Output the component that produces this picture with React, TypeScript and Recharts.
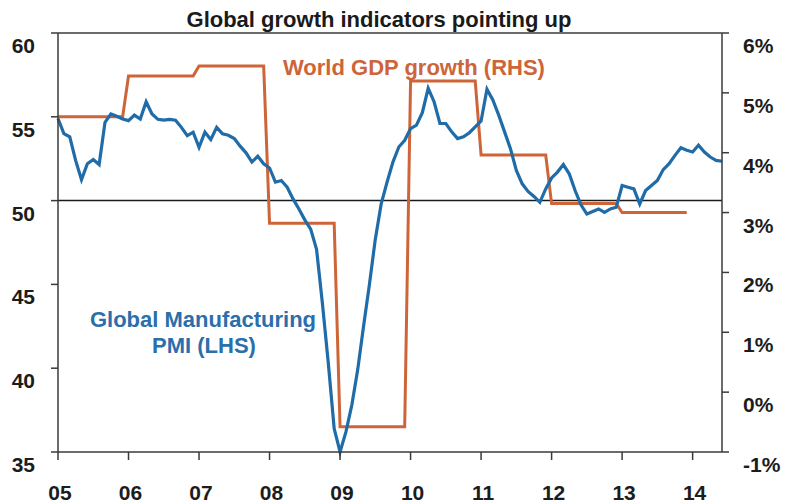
import React from 'react';
import { LineChart, Line, XAxis, YAxis, ReferenceLine } from 'recharts';

const FONT = '"Liberation Sans", Arial, Helvetica, sans-serif';
const BLUE = '#1F6CA8';
const ORANGE = '#CD6539';
const AXIS = '#3a3a3a';

// x-axis tick labels (one per year, Jan)
const yearLabels = ['05', '06', '07', '08', '09', '10', '11', '12', '13', '14'];

// World GDP growth (RHS, %), one value per calendar year 2005..2013
const gdpGrowth = [4.6, 5.28, 5.45, 2.82, -0.58, 5.2, 3.96, 3.15, 3.0];

// Global Manufacturing PMI (LHS), monthly Jan 2005 .. Jun 2014
const pmi2005 = [54.9, 54.0, 53.8, 52.4, 51.25, 52.2, 52.45, 52.15, 54.67, 55.17, 55.03, 54.87];
const pmi2006 = [54.77, 55.1, 54.87, 55.9, 55.17, 54.85, 54.8, 54.85, 54.8, 54.37, 53.88, 54.08];
const pmi2007 = [53.18, 54.08, 53.64, 54.37, 53.98, 53.9, 53.7, 53.25, 52.85, 52.3, 52.65, 52.2];
const pmi2008 = [51.95, 51.1, 51.2, 50.8, 50.1, 49.5, 48.85, 48.3, 47.1, 43.85, 40.3, 36.4];
const pmi2009 = [35.0, 36.2, 37.8, 39.9, 42.5, 45.0, 47.7, 49.8, 51.1, 52.3, 53.2, 53.6];
const pmi2010 = [54.3, 54.5, 55.25, 56.7, 55.9, 54.6, 54.6, 54.1, 53.7, 53.8, 54.05, 54.4];
const pmi2011 = [54.75, 56.65, 56.0, 55.1, 54.1, 53.1, 51.8, 51.0, 50.55, 50.25, 49.9, 50.7];
const pmi2012 = [51.35, 51.7, 52.15, 51.6, 50.6, 49.75, 49.2, 49.35, 49.5, 49.3, 49.5, 49.6];
const pmi2013 = [50.9, 50.8, 50.7, 49.8, 50.6, 50.9, 51.2, 51.85, 52.2, 52.7, 53.15, 53.0];
const pmi2014 = [52.9, 53.3, 52.9, 52.6, 52.4, 52.35];

const pmiValues = [
  ...pmi2005, ...pmi2006, ...pmi2007, ...pmi2008, ...pmi2009,
  ...pmi2010, ...pmi2011, ...pmi2012, ...pmi2013, ...pmi2014,
];

const leftTicks = [35, 40, 45, 50, 55, 60];
const rightTicks = [-1, 0, 1, 2, 3, 4, 5, 6];

const data = pmiValues.map((v, i) => ({
  m: i,
  pmi: v,
  gdp: Math.floor(i / 12) < gdpGrowth.length ? gdpGrowth[Math.floor(i / 12)] : null,
}));

const xTicks = yearLabels.map((_, i) => i * 12);

const LeftTick = (props: any) => {
  const { x, y, payload } = props;
  return (
    <text x={x} y={y + 20} textAnchor="end" fontFamily={FONT} fontSize={21} fontWeight="bold" fill="#1c1c1c">
      {payload.value}
    </text>
  );
};

const RightTick = (props: any) => {
  const { x, y, payload } = props;
  return (
    <text x={x} y={y + 20} textAnchor="start" fontFamily={FONT} fontSize={21} fontWeight="bold" fill="#1c1c1c">
      {`${payload.value}%`}
    </text>
  );
};

const BottomTick = (props: any) => {
  const { x, y, payload } = props;
  const idx = Math.round(payload.value / 12);
  return (
    <text x={x + 2} y={y + 38} textAnchor="middle" fontFamily={FONT} fontSize={21} fontWeight="bold" fill="#1c1c1c">
      {yearLabels[idx]}
    </text>
  );
};

export default function App() {
  return (
    <div style={{ position: 'absolute', left: 0, top: 0, width: 787, height: 503, background: '#ffffff' }}>
      <LineChart
        width={787}
        height={503}
        data={data}
        margin={{ top: 33, right: 0, bottom: 0, left: 0 }}
      >
        <XAxis
          dataKey="m"
          type="number"
          domain={[0, 113]}
          ticks={xTicks}
          interval={0}
          height={51}
          tickSize={8}
          tickMargin={2}
          axisLine={{ stroke: AXIS, strokeWidth: 1.5 }}
          tickLine={{ stroke: AXIS, strokeWidth: 1.5 }}
          tick={<BottomTick />}
        />
        <YAxis
          yAxisId="left"
          orientation="left"
          domain={[35, 60]}
          ticks={leftTicks}
          interval={0}
          width={58}
          tickSize={7}
          tickMargin={16}
          axisLine={{ stroke: AXIS, strokeWidth: 1.5 }}
          tickLine={{ stroke: AXIS, strokeWidth: 1.5 }}
          tick={<LeftTick />}
        />
        <YAxis
          yAxisId="right"
          orientation="right"
          domain={[-1, 6]}
          ticks={rightTicks}
          interval={0}
          width={65}
          tickSize={7}
          tickMargin={14}
          axisLine={{ stroke: AXIS, strokeWidth: 1.5 }}
          tickLine={{ stroke: AXIS, strokeWidth: 1.5 }}
          tick={<RightTick />}
        />
        <ReferenceLine yAxisId="left" y={60} stroke={AXIS} strokeWidth={1.5} />
        <ReferenceLine yAxisId="left" y={50} stroke="#1a1a1a" strokeWidth={1.5} />
        <Line
          yAxisId="right"
          dataKey="gdp"
          type="linear"
          stroke={ORANGE}
          strokeWidth={3}
          dot={false}
          activeDot={false}
          isAnimationActive={false}
        />
        <Line
          yAxisId="left"
          dataKey="pmi"
          type="linear"
          stroke={BLUE}
          strokeWidth={3.2}
          dot={false}
          activeDot={false}
          isAnimationActive={false}
        />
      </LineChart>
      <svg
        width={787}
        height={503}
        style={{ position: 'absolute', left: 0, top: 0, pointerEvents: 'none' }}
      >
        <text x={379} y={27} textAnchor="middle" fontFamily={FONT} fontSize={22} fontWeight="bold" fill="#1a1a1a">
          Global growth indicators pointing up
        </text>
        <text x={283} y={75} textAnchor="start" fontFamily={FONT} fontSize={22} fontWeight="bold" fill={ORANGE}>
          World GDP growth (RHS)
        </text>
        <text x={203} y={327} textAnchor="middle" fontFamily={FONT} fontSize={22} fontWeight="bold" fill="#2A6FAB">
          Global Manufacturing
        </text>
        <text x={204} y={353} textAnchor="middle" fontFamily={FONT} fontSize={22} fontWeight="bold" fill="#2A6FAB">
          PMI (LHS)
        </text>
      </svg>
    </div>
  );
}
